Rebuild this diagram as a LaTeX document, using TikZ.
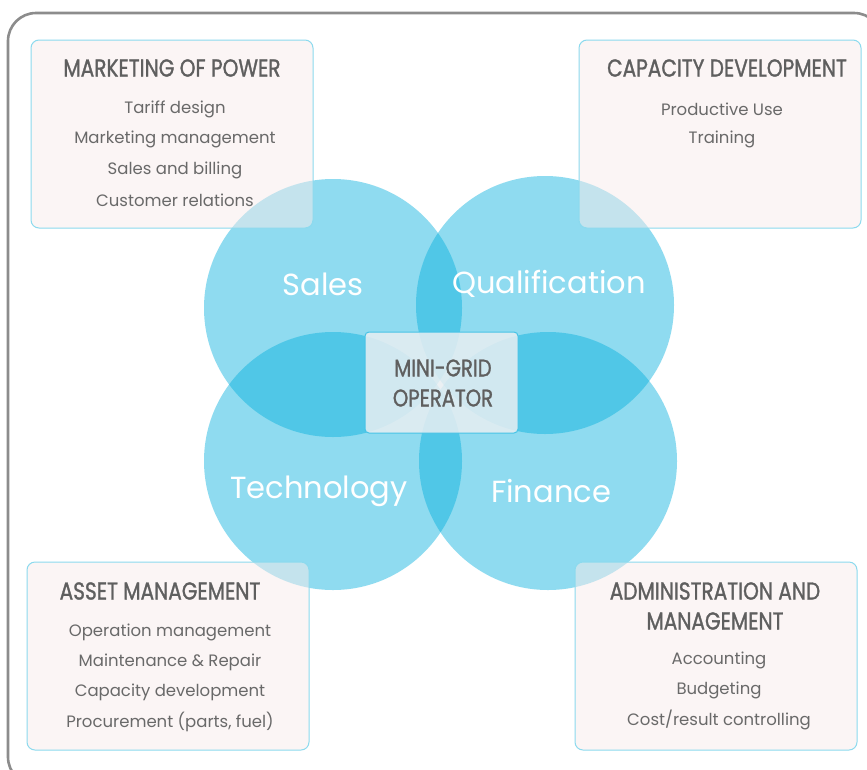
\documentclass[tikz,border=0pt]{standalone}
\usepackage{fontspec}
\setmainfont{Poppins}
\usetikzlibrary{positioning}
\definecolor{circ}{RGB}{0,175,221}
\definecolor{frame}{RGB}{140,140,140}
\definecolor{boxfill}{RGB}{249,236,236}
\definecolor{boxline}{RGB}{140,218,238}
\definecolor{txt}{RGB}{105,105,105}
\definecolor{ttltxt}{RGB}{95,95,95}
\definecolor{midfill}{RGB}{232,238,242}
\definecolor{midline}{RGB}{70,195,230}
\newfontfamily\condfont[FakeStretch=0.82, FakeBold=1.2]{Poppins}
\tikzset{
  bubble/.style={circle, fill=circ, fill opacity=0.44, draw=none, minimum size=258pt, inner sep=0pt},
  infobox/.style={draw=boxline, line width=1pt, fill=boxfill, fill opacity=0.5, rounded corners=8pt},
  ttl/.style={text=ttltxt, font=\condfont\fontsize{24.5}{30}\selectfont, align=center},
  itm/.style={text=txt, font=\fontsize{16.5}{20}\selectfont},
  blab/.style={text=white, font=\fontsize{30.5}{34}\selectfont},
  midbox/.style={draw=midline, line width=1pt, fill=midfill, fill opacity=0.85, rounded corners=4pt, minimum width=153pt, minimum height=101pt, inner sep=0pt},
  midtxt/.style={text=ttltxt, font=\condfont\fontsize{24}{30}\selectfont, align=center}
}
\begin{document}
\begin{tikzpicture}[x=1pt,y=-1pt]
\useasboundingbox (0,0) rectangle (867,769);
\clip (0,0) rectangle (867,769);
\fill[white] (0,0) rectangle (867,769);
\draw[frame, line width=2.6pt, rounded corners=28pt] (8,13) rectangle (882,785);
% circles
\node[bubble] (sales) at (333,308) {};
\node[bubble] (qual) at (545,305) {};
\node[bubble] (tech) at (333,461) {};
\node[bubble] (fin) at (548,461) {};
% center
\node[midbox] (mid) at (441.5,382.5) {};
\node[midtxt] (midt) at (443,383) {MINI-GRID\\OPERATOR};
% corner boxes
\draw[infobox] (31,40) rectangle (313,228);
\draw[infobox] (579,40) rectangle (861,228);
\draw[infobox] (27,562) rectangle (309,750);
\draw[infobox] (575,562) rectangle (857,750);
% circle labels
\node[blab] (salesl) at (323,284) {Sales};
\node[blab] (quall) at (549,284) {Qualification};
\node[blab] (techl) at (319,491) {Technology};
\node[blab] (finl) at (551,491) {Finance};
% marketing
\node[ttl] (mt) at (172,68) {MARKETING OF POWER};
\node[itm] (m1) at (175,109) {Tariff design};
\node[itm] (m2) at (175,139) {Marketing management};
\node[itm] (m3) at (175,170) {Sales and billing};
\node[itm] (m4) at (175,200) {Customer relations};
% capacity
\node[ttl] (ct) at (727,68) {CAPACITY DEVELOPMENT};
\node[itm] (c1) at (722,109) {Productive Use};
\node[itm] (c2) at (722,139) {Training};
% asset
\node[ttl] (at) at (160,591) {ASSET MANAGEMENT};
\node[itm] (a1) at (170,632) {Operation management};
\node[itm] (a2) at (170,662) {Maintenance \& Repair};
\node[itm] (a3) at (170,692) {Capacity development};
\node[itm] (a4) at (170,722) {Procurement (parts, fuel)};
% admin
\node[ttl] (dt) at (715,606) {ADMINISTRATION AND\\MANAGEMENT};
\node[itm] (d1) at (719,660) {Accounting};
\node[itm] (d2) at (719,690) {Budgeting};
\node[itm] (d3) at (719,720) {Cost/result controlling};
\end{tikzpicture}
\end{document}
